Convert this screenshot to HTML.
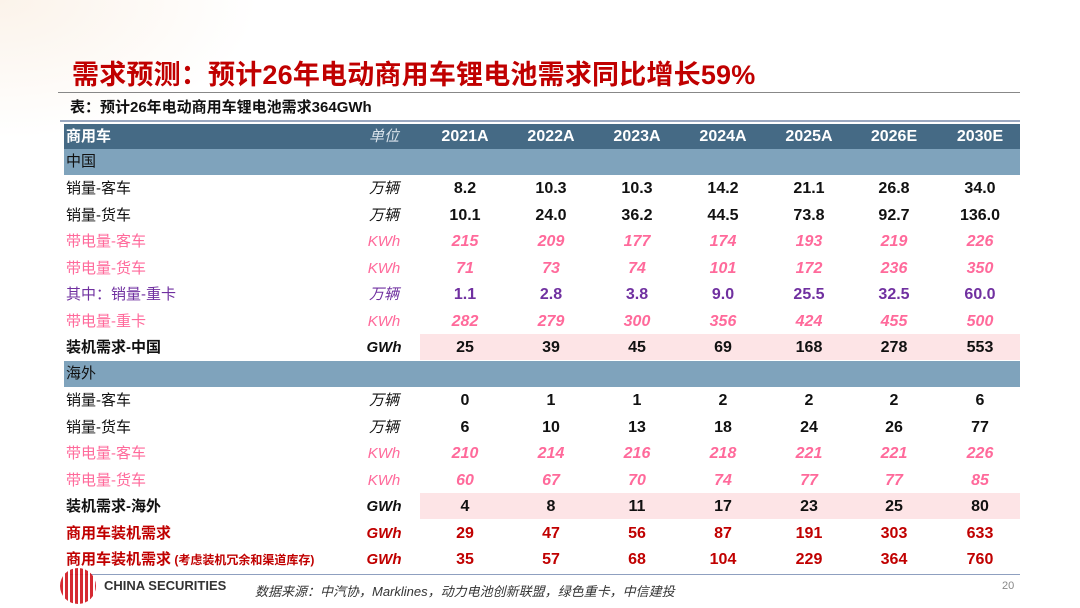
<!DOCTYPE html>
<html><head><meta charset="utf-8">
<style>
body{margin:0;width:1080px;height:608px;overflow:hidden;background:#fff;font-family:"Liberation Sans","Noto Sans CJK SC",sans-serif;position:relative}
.abs{position:absolute}
.row{position:absolute;left:64px;width:956px;height:26px;font-size:15px;line-height:28px}
.row div{position:absolute;top:0;white-space:nowrap}
.lab{left:2px}
.unit{left:300px;width:40px;text-align:center;font-style:italic}
.v{width:80px;text-align:center;font-weight:bold;font-size:16px}
</style></head><body>
<div class="abs" style="left:0;top:0;width:260px;height:140px;background:radial-gradient(ellipse at 0% 0%,#fbf3ea 0%,#fff 70%)"></div>
<div class="abs" style="left:72px;top:53px;font-size:27px;font-weight:bold;color:#c00000;letter-spacing:0.2px">需求预测：预计26年电动商用车锂电池需求同比增长59%</div>
<div class="abs" style="left:58px;top:92px;width:962px;height:1px;background:#888"></div>
<div class="abs" style="left:70px;top:96px;font-size:15px;font-weight:bold;color:#111">表：预计26年电动商用车锂电池需求364GWh</div>
<div class="abs" style="left:60px;top:120px;width:960px;height:2px;background:#9aa8c0"></div>
<div id="tbl"></div>
<div class="abs" style="left:70px;top:574px;width:950px;height:1px;background:#8fa0c0"></div>
<div class="abs" style="left:60px;top:568px;width:36px;height:36px;border-radius:50%;background:repeating-linear-gradient(90deg,#d0121b 0 3px,#fff 3px 5px);opacity:.9"></div>
<div class="abs" style="left:104px;top:578px;font-size:13px;color:#333;font-weight:bold">CHINA SECURITIES</div>
<div class="abs" style="left:255px;top:581px;font-size:13px;color:#333;font-style:italic">数据来源：中汽协，Marklines，动力电池创新联盟，绿色重卡，中信建投</div>
<div class="abs" style="left:1002px;top:580px;font-size:11px;color:#888">20</div>
<script>
const years=["2021A","2022A","2023A","2024A","2025A","2026E","2030E"];
const labels=["销量-客车","销量-货车","带电量-客车","带电量-货车","其中：销量-重卡","带电量-重卡","装机需求-中国","海外","销量-客车","销量-货车","带电量-客车","带电量-货车","装机需求-海外","商用车装机需求","商用车装机需求"];
const units=["万辆","万辆","KWh","KWh","万辆","KWh","GWh","","万辆","万辆","KWh","KWh","GWh","GWh","GWh"];
const values=[
["8.2","10.3","10.3","14.2","21.1","26.8","34.0"],
["10.1","24.0","36.2","44.5","73.8","92.7","136.0"],
["215","209","177","174","193","219","226"],
["71","73","74","101","172","236","350"],
["1.1","2.8","3.8","9.0","25.5","32.5","60.0"],
["282","279","300","356","424","455","500"],
["25","39","45","69","168","278","553"],
null,
["0","1","1","2","2","2","6"],
["6","10","13","18","24","26","77"],
["210","214","216","218","221","221","226"],
["60","67","70","74","77","77","85"],
["4","8","11","17","23","25","80"],
["29","47","56","87","191","303","633"],
["35","57","68","104","229","364","760"]];
const styles=["n","n","p","p","u","p","t","s","n","n","p","p","t","r","r"];
const colX=[361,447,533,619,705,790,876];
const tbl=document.getElementById('tbl');
function mk(parent,cls,txt,css){const d=document.createElement('div');if(cls)d.className=cls;d.textContent=txt;if(css)d.style.cssText+=css;parent.appendChild(d);return d;}
let h=document.createElement('div');h.className='row';h.style.cssText+='top:124px;height:25px;background:#456a85;color:#fff;line-height:25px';


tbl.appendChild(h);
let e=mk(h,'lab','商用车','font-weight:bold');


e=mk(h,'unit','单位','color:#d8e2ea;font-weight:normal');


years.forEach((y,i)=>{const c=mk(h,'v',y,'left:'+colX[i]+'px');

});
let s=document.createElement('div');s.className='row';s.style.cssText+='top:149px;background:#7fa3bc;color:#111;line-height:26px';


tbl.appendChild(s);mk(s,'lab','中国');
labels.forEach((l,r)=>{
 const top=175+r*26.5;
 const row=document.createElement('div');row.className='row';row.style.top=top+'px';
 
 
 tbl.appendChild(row);
 const st=styles[r];
 if(st==='s'){row.style.background='#7fa3bc';row.style.lineHeight='26px';mk(row,'lab',l,'color:#111');return;}
 let col='#111',it=false,lb=false;
 if(st==='p'){col='#ff6a9b';it=true;}
 if(st==='u'){col='#7030a0';}
 if(st==='t'){lb=true;mk(row,'','','left:356px;width:600px;height:26px;background:#fde4e6');}
 if(st==='r'){col='#c00000';lb=true;}
 const L=mk(row,'lab',l,'color:'+col+';'+(lb?'font-weight:bold;':''));
 if(r===14){const sp=document.createElement('span');sp.textContent=' (考虑装机冗余和渠道库存)';sp.style.cssText='font-size:12px';L.appendChild(sp);}
 mk(row,'unit',units[r],'color:'+col+';'+(lb?'font-weight:bold':''));
 values[r].forEach((v,i)=>{const c=mk(row,'v',v,'left:'+colX[i]+'px;color:'+col+';'+(it?'font-style:italic':''));
 
 });
});
</script>
</body></html>
